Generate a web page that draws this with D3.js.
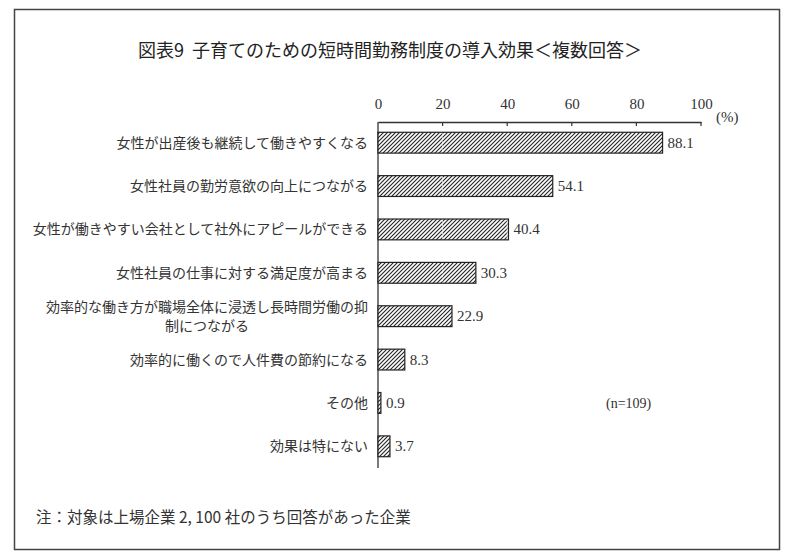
<!DOCTYPE html>
<html><head><meta charset="utf-8">
<script src="https://cdn.jsdelivr.net/npm/d3@7"></script>
<style>body{margin:0;background:#fff}svg{display:block}</style>
</head><body><svg id="c" width="799" height="556"></svg>
<script>
const categories = [
  ["女性が出産後も継続して働きやすくなる"],
  ["女性社員の勤労意欲の向上につながる"],
  ["女性が働きやすい会社として社外にアピールができる"],
  ["女性社員の仕事に対する満足度が高まる"],
  ["効率的な働き方が職場全体に浸透し長時間労働の抑","制につながる"],
  ["効率的に働くので人件費の節約になる"],
  ["その他"],
  ["効果は特にない"]
];
const values = [88.1, 54.1, 40.4, 30.3, 22.9, 8.3, 0.9, 3.7];
const ticks = [0, 20, 40, 60, 80, 100];
const title = "図表9\u00a0\u00a0子育てのための短時間勤務制度の導入効果＜複数回答＞";
const note = "注：対象は上場企業 2, 100 社のうち回答があった企業";

const svg = d3.select("#c");
const jp = "'Noto Sans CJK JP','Noto Sans',sans-serif";
const num = "'Liberation Serif','DejaVu Serif',serif";
const ink = "#333";

const defs = svg.append("defs");
const pat = defs.append("pattern").attr("id","hatch").attr("patternUnits","userSpaceOnUse")
  .attr("width",4).attr("height",4);
pat.append("rect").attr("width",4).attr("height",4).attr("fill","#fff");
pat.append("path").attr("d","M-1,1 l2,-2 M0,4 l4,-4 M3,5 l2,-2").attr("stroke","#222").attr("stroke-width",1.1);

svg.append("rect").attr("x",14.5).attr("y",9.5).attr("width",765).attr("height",540)
  .attr("fill","none").attr("stroke","#444").attr("stroke-width",1.5);

svg.append("text").attr("x",390).attr("y",57).attr("text-anchor","middle")
  .attr("font-family",jp).attr("font-size",18).attr("fill","#222").text(title);

const x = d3.scaleLinear().domain([0,100]).range([378,701]);
const y = d3.scaleBand().domain(d3.range(values.length)).range([121,468]).paddingInner(0.52).paddingOuter(0.26);

// axis
const ax = svg.append("g").attr("transform","translate(0,122)")
  .call(d3.axisTop(x).tickValues(ticks).tickSize(0).tickPadding(13).tickFormat(d3.format("d")));
ax.select(".domain").attr("stroke",ink).attr("stroke-width",1.3);
ax.selectAll("text").attr("font-family",num).attr("font-size",15).attr("fill",ink);
svg.append("g").selectAll("line").data(ticks.slice(1)).join("line")
  .attr("x1",d=>x(d)).attr("x2",d=>x(d)).attr("y1",122).attr("y2",126).attr("stroke",ink).attr("stroke-width",1.2);
svg.append("line").attr("x1",x(0)).attr("x2",x(0)).attr("y1",122).attr("y2",468).attr("stroke",ink).attr("stroke-width",1.3);
svg.append("text").attr("x",716).attr("y",122).attr("font-family",num).attr("font-size",15).attr("fill",ink).text("(%)");

// bars
const bars = svg.append("g");
bars.selectAll("rect").data(values).join("rect")
  .attr("x",x(0)).attr("y",(d,i)=>y(i)).attr("width",d=>x(d)-x(0)).attr("height",y.bandwidth())
  .attr("fill","url(#hatch)").attr("stroke","#222").attr("stroke-width",1.2);
values.forEach((v,i)=>{
  ticks.slice(1,-1).filter(t=>t<v).forEach(t=>{
    svg.append("line").attr("x1",x(t)).attr("x2",x(t)).attr("y1",y(i)+1).attr("y2",y(i)+y.bandwidth()-1)
      .attr("stroke","#fff").attr("stroke-width",1).attr("stroke-dasharray","2,2").attr("opacity",0.7);
  });
});
bars.selectAll("text.v").data(values).join("text").attr("class","v")
  .attr("x",d=>x(d)+5).attr("y",(d,i)=>y(i)+y.bandwidth()/2+5)
  .attr("font-family",num).attr("font-size",15).attr("fill",ink).text(d=>d.toFixed(1));

// category labels
const lab = svg.append("g");
categories.forEach((lines,i)=>{
  const cy = y(i)+y.bandwidth()/2;
  if(lines.length===1){
    lab.append("text").attr("x",368).attr("y",cy+5).attr("text-anchor","end")
      .attr("font-family",jp).attr("font-size",14).attr("fill",ink).text(lines[0]);
  } else {
    const t = lab.append("text").attr("font-family",jp).attr("font-size",14).attr("fill",ink);
    const t1 = t.append("tspan").attr("x",368).attr("y",cy-4).attr("text-anchor","end").text(lines[0]);
    const w = t1.node().getComputedTextLength();
    t.append("tspan").attr("x",368-w/2).attr("y",cy+15).attr("text-anchor","middle").text(lines[1]);
  }
});

svg.append("text").attr("x",606).attr("y",408).attr("font-family",num).attr("font-size",14).attr("fill",ink).text("(n=109)");
svg.append("text").attr("x",36).attr("y",523).attr("font-family",jp).attr("font-size",15.5).attr("fill",ink).text(note);
</script></body></html>
